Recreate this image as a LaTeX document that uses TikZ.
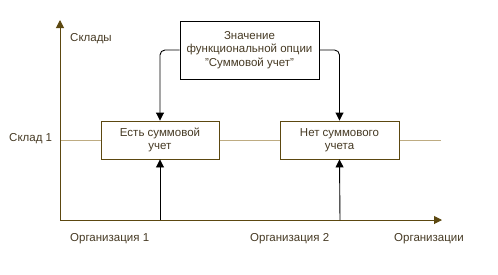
\documentclass[tikz,border=0pt]{standalone}
\usepackage{fontspec}
\setmainfont{Liberation Sans}
\usetikzlibrary{arrows.meta}
\definecolor{axisbrown}{RGB}{92,72,16}
\definecolor{gridtan}{RGB}{190,172,130}
\definecolor{txt}{RGB}{70,58,36}
\begin{document}
\begin{tikzpicture}[x=1pt,y=-1pt,
  every node/.style={font=\fontsize{11.5}{13.5}\selectfont, text=txt},
  axis/.style={draw=axisbrown, line width=1pt, -{Triangle[length=8pt,width=8pt]}},
  optbox/.style={draw=black, line width=0.9pt, align=center, inner sep=0pt},
  casebox/.style={draw=axisbrown, line width=0.9pt, align=center, inner sep=0pt},
  flow/.style={draw=black, line width=0.9pt, -{Triangle[length=8pt,width=8pt]}, rounded corners=5pt},
  lbl/.style={anchor=west, inner sep=0pt}]
  \useasboundingbox (0,0) rectangle (498,274);

  % axes origin and ends
  \coordinate (o) at (60,220);
  \coordinate (ytop) at (60,20);
  \coordinate (xend) at (442,220);
  \coordinate (s1a) at (60,140);
  \coordinate (s1b) at (441,140);

  % warehouse level
  \draw[gridtan, line width=0.8pt] (s1a) -- (s1b);

  % boxes
  \node[optbox, minimum width=139pt, minimum height=58pt] (opt) at (249.5,50)
    {Значение\\функциональной опции\\"Суммовой учет"};
  \node[casebox, fill=white, minimum width=118pt, minimum height=38pt] (yes) at (160,140)
    {Есть суммовой\\учет};
  \node[casebox, fill=white, minimum width=119pt, minimum height=38pt] (no) at (339.5,140)
    {Нет суммового\\учета};

  % axes
  \draw[axis] (o) -- (ytop);
  \draw[axis] (o) -- (xend);

  % feet on the organisation axis
  \coordinate (f1) at (160,220);
  \coordinate (f2) at (340,220);

  % connectors
  \draw[flow] (opt.west) -| (yes.north);
  \draw[flow] (opt.east) -| (no.north);
  \draw[flow] (f1) -- (yes.south);
  \draw[flow] (f2) -- (no.south);

  % axis labels
  \node[lbl] (ly) at (70,39) {Склады};
  \node[lbl] (ls1) at (9,139) {Склад 1};
  \node[lbl] (lo1) at (70,239) {Организация 1};
  \node[lbl] (lo2) at (250,239) {Организация 2};
  \node[lbl] (lx) at (394,239) {Организации};
\end{tikzpicture}
\end{document}
